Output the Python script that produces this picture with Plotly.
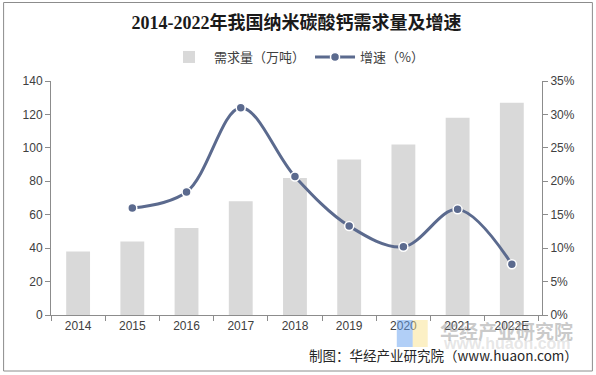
import plotly.graph_objects as go

years = ["2014", "2015", "2016", "2017", "2018", "2019", "2020", "2021", "2022E"]
demand = [38, 44, 52, 68, 82, 93, 102, 118, 127]
growth_years = ["2015", "2016", "2017", "2018", "2019", "2020", "2021", "2022E"]
growth = [0.160, 0.184, 0.310, 0.207, 0.133, 0.102, 0.158, 0.076]

W, H = 596, 375
L, R, T, B = 50.5, 542.5, 81, 315

def px(x):
    return (x - L) / (R - L)

def py(y):
    return (B - y) / (B - T)

fig = go.Figure()
fig.add_trace(go.Bar(x=years, y=demand, name="需求量（万吨）",
                     marker=dict(color="#D9D9D9", line=dict(width=0)),
                     yaxis="y"))
fig.add_trace(go.Scatter(x=growth_years, y=growth, name="增速（%）", mode="lines+markers",
                         line=dict(color="#5B6A8E", width=3, shape="spline", smoothing=1.0),
                         marker=dict(size=9, color="#5B6A8E", line=dict(color="white", width=1.5)),
                         yaxis="y2"))

axis_font = dict(family="Liberation Sans, Arial, sans-serif", size=12, color="#404040")
fig.update_layout(
    width=W, height=H,
    margin=dict(l=L, r=W - R, t=T, b=H - B),
    paper_bgcolor="white", plot_bgcolor="white",
    bargap=0.56,
    showlegend=True,
    title=dict(text="<b>2014-2022年我国纳米碳酸钙需求量及增速</b>",
               x=0.5, xref="paper", xanchor="center",
               y=1 - 23 / H, yref="container", yanchor="middle",
               font=dict(family="Liberation Serif, Noto Sans CJK SC", size=18, color="#1a1a1a")),
    legend=dict(orientation="h", x=0.5, xanchor="center", y=py(57), yanchor="middle",
                font=dict(family="Noto Sans CJK SC, Liberation Sans", size=13, color="#404040"),
                bgcolor="rgba(0,0,0,0)", itemwidth=40, tracegroupgap=0),
    xaxis=dict(type="category", categoryorder="array", categoryarray=years,
               showline=True, linecolor="#8C8C8C", linewidth=1,
               ticks="outside", tickson="boundaries", ticklen=5, tickcolor="#8C8C8C",
               tickfont=axis_font, showgrid=False, zeroline=False),
    yaxis=dict(range=[0, 140], dtick=20, showline=True, linecolor="#8C8C8C", linewidth=1,
               ticks="outside", ticklen=5, tickcolor="#8C8C8C", tickfont=axis_font,
               showgrid=False, zeroline=False),
    yaxis2=dict(range=[0, 0.35], dtick=0.05, tickformat=".0%", overlaying="y", side="right",
                showline=True, linecolor="#8C8C8C", linewidth=1,
                ticks="outside", ticklen=5, tickcolor="#8C8C8C", tickfont=axis_font,
                showgrid=False, zeroline=False),
)

# outer border
fig.add_shape(type="rect", xref="paper", yref="paper",
              x0=px(3), x1=px(593), y0=py(371), y1=py(2.5),
              line=dict(color="#8C8C8C", width=1), fillcolor="rgba(0,0,0,0)", layer="below")

# watermark logo
fig.add_shape(type="rect", xref="paper", yref="paper",
              x0=px(397), x1=px(413), y0=py(347), y1=py(320),
              line=dict(width=0), fillcolor="rgba(100,160,240,0.5)")
fig.add_shape(type="rect", xref="paper", yref="paper",
              x0=px(413), x1=px(428), y0=py(347), y1=py(320),
              line=dict(width=0), fillcolor="rgba(250,225,140,0.5)")
fig.add_annotation(text="<b>华经产业研究院</b>", xref="paper", yref="paper",
                   x=px(507), y=py(330), xanchor="center", yanchor="middle", showarrow=False,
                   font=dict(family="Noto Sans CJK SC", size=19, color="rgba(150,150,150,0.5)"))
fig.add_annotation(text="<b>www.huaon.com</b>", xref="paper", yref="paper",
                   x=px(507), y=py(343), xanchor="center", yanchor="middle", showarrow=False,
                   font=dict(family="Liberation Sans", size=16, color="rgba(170,170,170,0.3)"))

fig.add_annotation(text="制图：华经产业研究院（www.huaon.com）", xref="paper", yref="paper",
                   x=px(581), y=py(355), xanchor="right", yanchor="middle", showarrow=False,
                   font=dict(family="Noto Sans CJK SC, Liberation Sans", size=13.5, color="#262626"))

fig.write_html("out.html", config={"displayModeBar": False},
               post_script="document.body.style.margin='0';document.body.style.padding='0';")
